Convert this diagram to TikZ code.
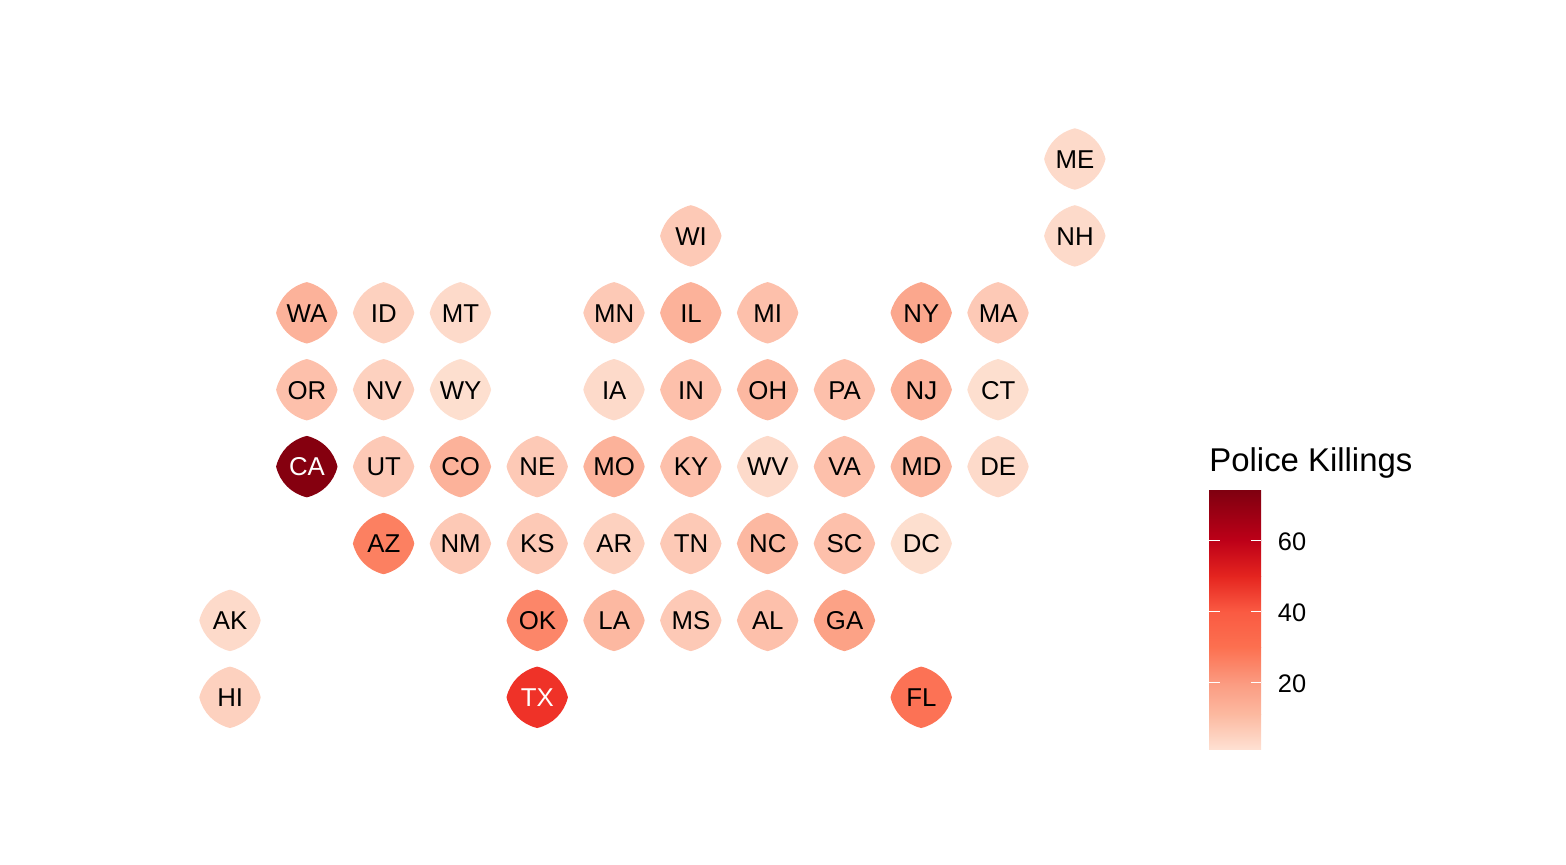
\documentclass[tikz,border=0pt]{standalone}
\usepackage{fontspec}
\setmainfont{Liberation Sans}
\definecolor{rota}{HTML}{FDDFCF}
\definecolor{rotb}{HTML}{FDDACA}
\definecolor{rotc}{HTML}{FDD1BF}
\definecolor{rotd}{HTML}{FDC9B6}
\definecolor{rote}{HTML}{FDC0AB}
\definecolor{rotf}{HTML}{FCB8A1}
\definecolor{rotg}{HTML}{FCB29A}
\definecolor{roth}{HTML}{FBA78D}
\definecolor{roti}{HTML}{FCA286}
\definecolor{rotj}{HTML}{FC8669}
\definecolor{rotk}{HTML}{FC8061}
\definecolor{rotl}{HTML}{FC7255}
\definecolor{rotm}{HTML}{EF3228}
\definecolor{rotn}{HTML}{85000F}
\definecolor{bara}{HTML}{FEE0D2}
\definecolor{barb}{HTML}{FCB9A0}
\definecolor{barc}{HTML}{FB9A80}
\definecolor{bard}{HTML}{FC7050}
\definecolor{bare}{HTML}{FA5A42}
\definecolor{barf}{HTML}{E5251F}
\definecolor{barg}{HTML}{BD0018}
\definecolor{barh}{HTML}{7F0010}
\tikzset{
  kachel/.style={line width=0pt},
  kuerzel/.style={anchor=base,inner sep=0pt,font=\fontsize{12.9}{14}\selectfont},
  skala/.style={anchor=base west,inner sep=0pt,font=\fontsize{12.7}{14}\selectfont},
  titel/.style={anchor=base west,inner sep=0pt,font=\fontsize{16.45}{18}\selectfont},
  strich/.style={white,line width=0.5pt},
}
\begin{document}
\begin{tikzpicture}[x=0.5pt,y=-0.5pt]
  \useasboundingbox (0,0) rectangle (1566,864);
  % Kacheln
  \foreach \st/\sp/\ze/\fb/\tx in {
    ME/11/0/rotb/black,
    WI/6/1/rotd/black, NH/11/1/rotb/black,
    WA/1/2/rotg/black, ID/2/2/rotc/black, MT/3/2/rotb/black, MN/5/2/rotd/black,
    IL/6/2/rotg/black, MI/7/2/rote/black, NY/9/2/roth/black, MA/10/2/rotd/black,
    OR/1/3/rote/black, NV/2/3/rotc/black, WY/3/3/rota/black, IA/5/3/rotb/black,
    IN/6/3/rote/black, OH/7/3/rotf/black, PA/8/3/rote/black, NJ/9/3/rotg/black, CT/10/3/rota/black,
    CA/1/4/rotn/white, UT/2/4/rotd/black, CO/3/4/rotg/black, NE/4/4/rotd/black, MO/5/4/rotg/black,
    KY/6/4/rote/black, WV/7/4/rotb/black, VA/8/4/rote/black, MD/9/4/rotf/black, DE/10/4/rotb/black,
    AZ/2/5/rotk/black, NM/3/5/rotd/black, KS/4/5/rotd/black, AR/5/5/rotc/black,
    TN/6/5/rotd/black, NC/7/5/rotf/black, SC/8/5/rote/black, DC/9/5/rota/black,
    AK/0/6/rotb/black, OK/4/6/rotj/black, LA/5/6/rotf/black, MS/6/6/rotd/black, AL/7/6/rote/black, GA/8/6/roti/black,
    HI/0/7/rotc/black, TX/4/7/rotm/white, FL/9/7/rotl/black}
  {
    \fill[kachel,fill=\fb,shift={({230+76.8*\sp},{159+76.9*\ze})}]
      (0,-30.7) .. controls (15.5,-27) and (27,-15.5) .. (30.7,0)
      .. controls (27,15.5) and (15.5,27) .. (0,30.7)
      .. controls (-15.5,27) and (-27,15.5) .. (-30.7,0)
      .. controls (-27,-15.5) and (-15.5,-27) .. (0,-30.7) -- cycle;
    \node[kuerzel,text=\tx] (\st) at ({230.2+76.8*\sp},{168.3+76.9*\ze}) {\st};
  }
  % Farbskala
  \foreach \yu/\yo/\cu/\co in {749/714/bara/barb,714.5/682/barb/barc,682.5/647/barc/bard,
    647.5/611/bard/bare,611.5/576/bare/barf,576.5/540/barf/barg,540.5/490/barg/barh}
    \shade[bottom color=\cu,top color=\co] (1209,\yu) rectangle (1261,\yo);
  \foreach \wert/\yy/\yb in {60/540.5/550,40/611/621,20/682/692}
  {
    \draw[strich] (1209,\yy) -- (1220,\yy);
    \draw[strich] (1251,\yy) -- (1261,\yy);
    \node[skala] (wert\wert) at (1277.5,\yb) {\wert};
  }
  \node[titel] (legende) at (1209,471) {Police Killings};
\end{tikzpicture}
\end{document}
